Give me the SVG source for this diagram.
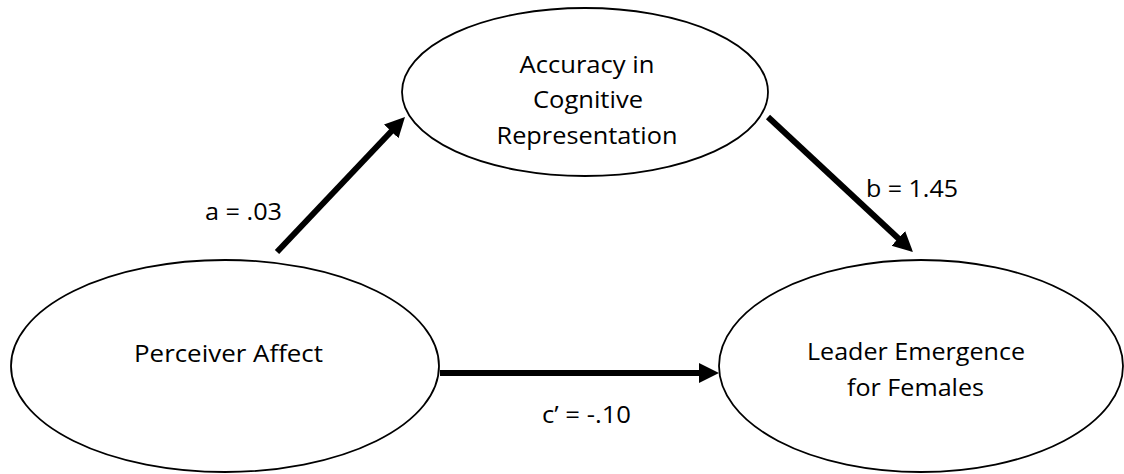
<svg xmlns="http://www.w3.org/2000/svg" width="1124" height="474" viewBox="0 0 1124 474">
<style>
.node{fill:#fff;stroke:#000;stroke-width:1.8}
.t{font-family:"Open Sans","Liberation Sans",sans-serif;font-size:23px;fill:#000;text-anchor:middle}
.e{stroke:#000;stroke-width:6;fill:none;marker-end:url(#ah)}
</style>
<defs>
<marker id="ah" markerUnits="userSpaceOnUse" markerWidth="22" markerHeight="22" refX="2" refY="10" orient="auto">
<path d="M0,0 L20,10 L0,20 z" fill="#000"/>
</marker>
</defs>
<rect width="1124" height="474" fill="#fff"/>
<g id="connectors">
<line class="e" x1="277" y1="252" x2="392.6" y2="130"/>
<line class="e" x1="768" y1="117" x2="899.8" y2="239.7"/>
<line class="e" x1="440" y1="373" x2="701" y2="373"/>
</g>
<g id="accuracy">
<ellipse class="node" cx="585" cy="92" rx="183" ry="84"/>
<text class="t" x="587" y="73" textLength="135" lengthAdjust="spacingAndGlyphs">Accuracy in</text>
<text class="t" x="588" y="108" textLength="110" lengthAdjust="spacingAndGlyphs">Cognitive</text>
<text class="t" x="587" y="144" textLength="181" lengthAdjust="spacingAndGlyphs">Representation</text>
</g>
<g id="perceiver">
<ellipse class="node" cx="225" cy="366" rx="214" ry="106"/>
<text class="t" x="228.5" y="362" textLength="189" lengthAdjust="spacingAndGlyphs">Perceiver Affect</text>
</g>
<g id="leader">
<ellipse class="node" cx="921" cy="366" rx="202" ry="106"/>
<text class="t" x="916" y="360" textLength="218" lengthAdjust="spacingAndGlyphs">Leader Emergence</text>
<text class="t" x="915.5" y="396" textLength="137" lengthAdjust="spacingAndGlyphs">for Females</text>
</g>
<g id="labels">
<text class="t" x="243.5" y="220" textLength="77" lengthAdjust="spacingAndGlyphs">a = .03</text>
<text class="t" x="912" y="197" textLength="92" lengthAdjust="spacingAndGlyphs">b = 1.45</text>
<text class="t" x="586.5" y="423" textLength="89" lengthAdjust="spacingAndGlyphs">c’ = -.10</text>
</g>
</svg>
